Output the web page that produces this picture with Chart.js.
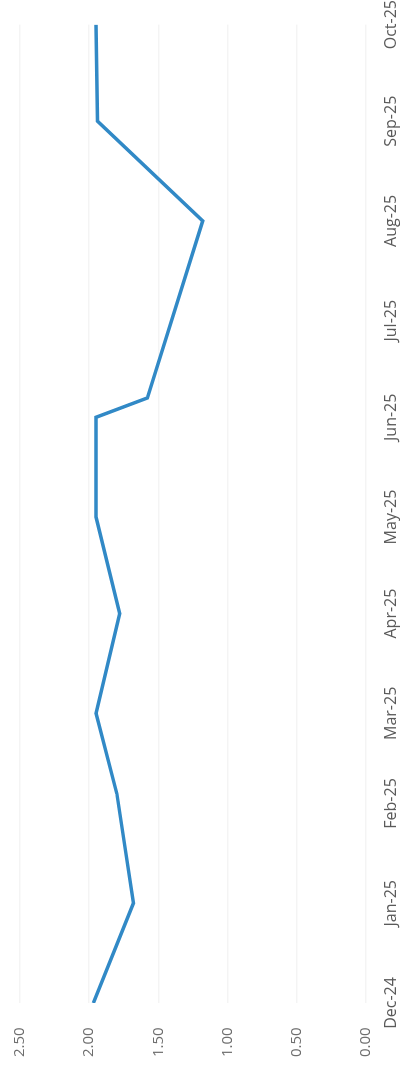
<!DOCTYPE html>
<html>
<head>
<meta charset="utf-8">
<script src="https://cdn.jsdelivr.net/npm/chart.js@4"></script>
<style>
    html, body { margin: 0; padding: 0; background: #fff; overflow: hidden; }
    body { width: 403px; height: 1070px; position: relative; }
    /* chart is drawn landscape, then turned a quarter to the left */
    #wrap {
        position: absolute; left: 0; top: 0;
        width: 1070px; height: 403px;
        transform-origin: 0 0;
        transform: translateY(1070px) rotate(-90deg);
    }
</style>
</head>
<body>
<div id="wrap"><canvas id="rateChart"></canvas></div>
<script>
// month ticks (days counted from 1 Dec 2024)
const monthLabels = ['Dec-24', 'Jan-25', 'Feb-25', 'Mar-25', 'Apr-25', 'May-25', 'Jun-25', 'Jul-25', 'Aug-25', 'Sep-25', 'Oct-25'];
const monthDays = [0, 31, 62, 90, 121, 151, 182, 212, 243, 274, 304];

// observations
const pointDays = [0, 31, 65, 90, 121, 151, 182, 188, 243, 274, 304];
const rateValues = [1.97, 1.68, 1.80, 1.95, 1.78, 1.95, 1.95, 1.58, 1.18, 1.94, 1.95];

const valueTicks = [0, 0.5, 1, 1.5, 2, 2.5];

const points = pointDays.map((d, i) => ({ x: d, y: rateValues[i] }));

const ctx = document.getElementById('rateChart').getContext('2d');

new Chart(ctx, {
    type: 'line',
    data: {
        datasets: [{
            data: points,
            borderColor: '#3189c6',
            borderWidth: 3.5,
            pointRadius: 0,
            tension: 0,
            fill: false
        }]
    },
    options: {
        responsive: true,
        maintainAspectRatio: false,
        animation: false,
        layout: {
            padding: { top: 20, right: 0, left: 13, bottom: 0 }
        },
        plugins: {
            legend: { display: false },
            tooltip: { enabled: false }
        },
        scales: {
            x: {
                type: 'linear',
                min: monthDays[0],
                max: monthDays[monthDays.length - 1],
                afterBuildTicks: (axis) => {
                    axis.ticks = monthDays.map(v => ({ value: v }));
                },
                afterFit: (axis) => { axis.height = 37; },
                grid: { display: false, drawTicks: true, tickLength: 16 },
                border: { display: false },
                ticks: {
                    autoSkip: false,
                    maxRotation: 0,
                    padding: 0,
                    color: '#5a5a5a',
                    font: { family: '"Open Sans", sans-serif', size: 16 },
                    callback: (value, index) => monthLabels[index]
                }
            },
            y: {
                min: 0,
                max: 2.5,
                afterBuildTicks: (axis) => {
                    axis.ticks = valueTicks.map(v => ({ value: v }));
                },
                afterFit: (axis) => { axis.width = 54; },
                grid: {
                    color: 'rgba(0,0,0,0.045)',
                    lineWidth: 1.5,
                    drawTicks: false
                },
                border: { display: false },
                ticks: {
                    padding: 0,
                    crossAlign: 'far',
                    color: '#6e6e6e',
                    font: { family: '"Open Sans", sans-serif', size: 15 },
                    callback: (value) => value.toFixed(2)
                }
            }
        }
    }
});
</script>
</body>
</html>
